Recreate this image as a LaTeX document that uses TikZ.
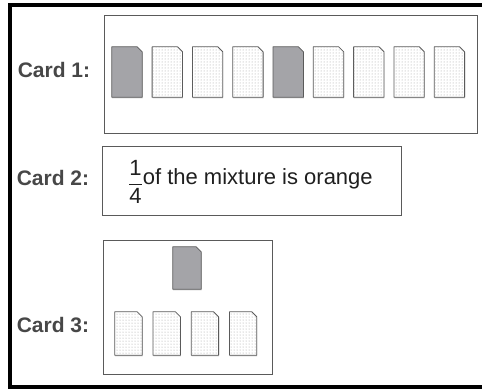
\documentclass[tikz,border=0pt]{standalone}
\usepackage{amsmath}
\usepackage{fontspec}
\setmainfont{Liberation Sans}
\usetikzlibrary{patterns,shadows}

\definecolor{cardgray}{HTML}{A4A4A8}
\definecolor{edgegray}{HTML}{5A5A5A}

% card with folded top right corner: options, name, position, look
\newcommand{\cardat}[4]{%
  \node[cardbox,#1] (#2) at #3 {};
  \draw[#4] ([xshift=-5pt]#2.north east) -- (#2.north west) -- (#2.south west) -- (#2.south east) -- ([yshift=-5pt]#2.north east) -- cycle;}

\begin{document}
\begin{tikzpicture}[x=1pt,y=-1pt,
  cardbox/.style={inner sep=0pt,minimum width=30pt,minimum height=50pt},
  card/.style={draw=edgegray,line width=0.8pt,line join=round,drop shadow={shadow xshift=0.4pt,shadow yshift=-1.2pt,opacity=0.35}},
  cardG/.style={card,fill=cardgray},
  cardD/.style={card,fill=white,postaction={pattern=dots,pattern color=gray!75}},
  small/.style={minimum width=27pt,minimum height=43pt},
  label/.style={font=\bfseries\fontsize{21}{24}\selectfont,text=black!72},
  box/.style={draw=edgegray,line width=0.8pt}]
\useasboundingbox (0,0) rectangle (482,389);
\def\dx{40.3};
\def\dxs{38.2};

% frame
\draw[line width=4pt] (482,5) -- (10,5) -- (10,386.5) -- (482,386.5);

% card 1
\draw[box] (104,15) rectangle (477,133);
\node[label] (L1) at (54,70) {Card 1:};
\cardat{}{A1}{(127,72)}{cardG}
\cardat{}{A2}{(127+\dx,72)}{cardD}
\cardat{}{A3}{(127+2*\dx,72)}{cardD}
\cardat{}{A4}{(127+3*\dx,72)}{cardD}
\cardat{}{A5}{(127+4*\dx,72)}{cardG}
\cardat{}{A6}{(127+5*\dx,72)}{cardD}
\cardat{}{A7}{(127+6*\dx,72)}{cardD}
\cardat{}{A8}{(127+7*\dx,72)}{cardD}
\cardat{}{A9}{(127+8*\dx,72)}{cardD}

% card 2
\draw[box] (102,146) rectangle (401,215);
\node[label] (L2) at (53,178) {Card 2:};
\node[anchor=base west,inner sep=0pt,text=black!88,font=\fontsize{22}{26}\selectfont] (T2) at (128,184.5) {\raisebox{-5pt}{$\dfrac{\mbox{1}}{\mbox{4}}$}of the mixture is orange};

% card 3
\draw[box] (103,240) rectangle (272,374);
\node[label] (L3) at (53,325) {Card 3:};
\cardat{minimum width=28pt,minimum height=42pt}{T}{(187,268)}{cardG}
\cardat{small}{B1}{(128.5,333.5)}{cardD}
\cardat{small}{B2}{(128.5+\dxs,333.5)}{cardD}
\cardat{small}{B3}{(128.5+2*\dxs,333.5)}{cardD}
\cardat{small}{B4}{(128.5+3*\dxs,333.5)}{cardD}
\end{tikzpicture}
\end{document}
